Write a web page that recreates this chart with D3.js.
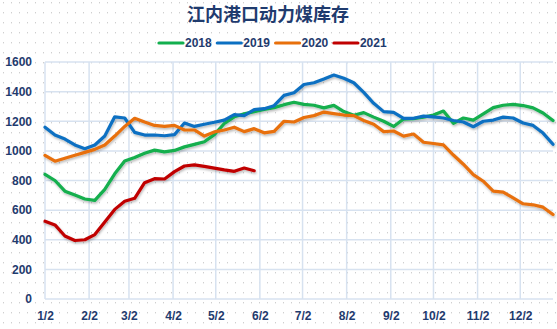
<!DOCTYPE html>
<html>
<head>
<meta charset="utf-8">
<script src="https://cdn.jsdelivr.net/npm/d3@7"></script>
<style>
  html, body { margin: 0; padding: 0; background: #fff; }
  svg { display: block; }
</style>
</head>
<body>
<svg id="chart" width="557" height="329"></svg>
<script>
// Weekly observation dates (month-day), shared by all years
const weeks = [
  "01-02","01-09","01-16","01-23","01-30","02-06","02-13","02-20","02-27",
  "03-06","03-13","03-20","03-27","04-03","04-10","04-17","04-24",
  "05-01","05-08","05-15","05-22","05-29","06-05","06-12","06-19","06-26",
  "07-03","07-10","07-17","07-24","07-31","08-07","08-14","08-21","08-28",
  "09-04","09-11","09-18","09-25","10-02","10-09","10-16","10-23","10-30",
  "11-06","11-13","11-20","11-27","12-04","12-11","12-18","12-25"
];

// Coal stock at Yangtze ports (10k tonnes)
const stock2018 = [842,800,728,702,675,666,740,845,932,955,984,1005,993,1003,1027,1044,
  1062,1110,1185,1230,1250,1265,1280,1292,1312,1328,1314,1308,1290,1307,1265,1240,
  1258,1228,1200,1165,1215,1218,1228,1242,1269,1186,1222,1208,1250,1292,1308,1314,
  1306,1290,1256,1205];
const stock2019 = [1160,1107,1080,1040,1015,1040,1100,1230,1222,1125,1107,1107,1102,1110,
  1188,1165,1180,1193,1208,1245,1238,1278,1285,1305,1375,1392,1448,1460,1485,1512,
  1490,1460,1395,1321,1265,1260,1220,1220,1235,1230,1222,1205,1195,1163,1200,1208,
  1228,1222,1188,1172,1120,1045];
const stock2020 = [970,930,950,970,990,1010,1040,1100,1165,1220,1195,1172,1165,1172,1141,
  1141,1100,1128,1141,1160,1130,1150,1122,1132,1200,1195,1225,1238,1262,1252,1242,
  1238,1205,1180,1130,1134,1100,1114,1058,1050,1040,972,910,840,795,728,722,683,643,
  636,620,570];
const stock2021 = [525,500,425,395,400,435,520,605,660,680,785,812,810,860,898,905,895,
  884,872,862,884,866];

const seriesNames = ["2018","2019","2020","2021"];
const seriesValues = [stock2018, stock2019, stock2020, stock2021];
const seriesColors = ["#12AF4E","#0B70C2","#E8700B","#C00000"];

const xTickLabels = ["1/2","2/2","3/2","4/2","5/2","6/2","7/2","8/2","9/2","10/2","11/2","12/2"];
const yTicks = [0,200,400,600,800,1000,1200,1400,1600];

const titleText = "江内港口动力煤库存";

const BASE_YEAR = 2018;
const parseDay = s => { const [m, d] = s.split("-").map(Number); return new Date(BASE_YEAR, m - 1, d); };
const dates = weeks.map(parseDay);
const tickDates = xTickLabels.map(l => { const [m, d] = l.split("/").map(Number); return new Date(BASE_YEAR, m - 1, d); });

const svg = d3.select("#chart");
const W = 557, H = 329;
const plot = { left: 45, right: 553, top: 62, bottom: 299 };

const textColor = "#1F3B6E";
const gridColor = "#D7E2F0";
const font = "'Liberation Sans', Arial, sans-serif";

// Dotted background pattern
const defs = svg.append("defs");
const pat = defs.append("pattern")
  .attr("id", "dots").attr("patternUnits", "userSpaceOnUse")
  .attr("width", 8).attr("height", 10).attr("x", 3).attr("y", 2);
pat.append("rect").attr("x", 0).attr("y", 0).attr("width", 1).attr("height", 1.4).attr("fill", "#CFCFCF");

const shadow = defs.append("filter").attr("id", "lineShadow")
  .attr("x", "-5%").attr("y", "-5%").attr("width", "110%").attr("height", "120%");
shadow.append("feDropShadow").attr("dx", 0.8).attr("dy", 1.6).attr("stdDeviation", 0.9)
  .attr("flood-color", "#000").attr("flood-opacity", 0.28);

svg.append("rect").attr("width", W).attr("height", H).attr("fill", "#fff");
svg.append("rect").attr("width", W).attr("height", H).attr("fill", "url(#dots)");

// Scales
const x = d3.scaleTime()
  .domain([dates[0], dates[dates.length - 1]])
  .range([plot.left, plot.right]);
const y = d3.scaleLinear().domain([0, 1600]).range([plot.bottom, plot.top]);

// Gridlines
const grid = svg.append("g");
grid.selectAll("line.h").data(yTicks).join("line")
  .attr("x1", plot.left).attr("x2", plot.right)
  .attr("y1", d => y(d)).attr("y2", d => y(d))
  .attr("stroke", gridColor).attr("stroke-width", 1.5);
grid.selectAll("line.v").data(tickDates).join("line")
  .attr("x1", d => x(d)).attr("x2", d => x(d))
  .attr("y1", plot.top).attr("y2", plot.bottom)
  .attr("stroke", gridColor).attr("stroke-width", 1.5);

// Axes
const yAxis = svg.append("g")
  .attr("transform", `translate(${plot.left},0)`)
  .call(d3.axisLeft(y).tickValues(yTicks).tickSize(0).tickPadding(13).tickFormat(d3.format("d")));
yAxis.select(".domain").remove();
yAxis.selectAll("text")
  .attr("fill", textColor).attr("font-family", font)
  .attr("font-size", 12).attr("font-weight", "bold");

const xAxis = svg.append("g")
  .attr("transform", `translate(0,${plot.bottom})`)
  .call(d3.axisBottom(x).tickValues(tickDates).tickSize(0).tickPadding(12)
    .tickFormat((d, i) => xTickLabels[i]));
xAxis.select(".domain").remove();
xAxis.selectAll("text")
  .attr("fill", textColor).attr("font-family", font)
  .attr("font-size", 12).attr("font-weight", "bold");

// Series lines
const line = d3.line()
  .x((d, i) => x(dates[i]))
  .y(d => y(d))
  .curve(d3.curveLinear);

const lines = svg.append("g").attr("filter", "url(#lineShadow)");
seriesValues.forEach((vals, k) => {
  lines.append("path")
    .datum(vals)
    .attr("d", line)
    .attr("fill", "none")
    .attr("stroke", seriesColors[k])
    .attr("stroke-width", 3.2)
    .attr("stroke-linejoin", "round")
    .attr("stroke-linecap", "round");
});

// Title
svg.append("text")
  .attr("x", 268).attr("y", 21)
  .attr("text-anchor", "middle")
  .attr("fill", textColor)
  .attr("font-family", "'Noto Sans CJK SC', sans-serif")
  .attr("font-size", 18).attr("font-weight", "bold")
  .text(titleText);

// Legend
const legend = svg.append("g");
seriesNames.forEach((name, k) => {
  const lx = 159 + k * 58.3;
  const g = legend.append("g");
  g.append("line")
    .attr("x1", lx).attr("x2", lx + 24)
    .attr("y1", 43).attr("y2", 43)
    .attr("stroke", seriesColors[k]).attr("stroke-width", 3.2)
    .attr("stroke-linecap", "round");
  g.append("text")
    .attr("x", lx + 26).attr("y", 47.3)
    .attr("fill", textColor).attr("font-family", font)
    .attr("font-size", 12).attr("font-weight", "bold")
    .text(name);
});
</script>
</body>
</html>
